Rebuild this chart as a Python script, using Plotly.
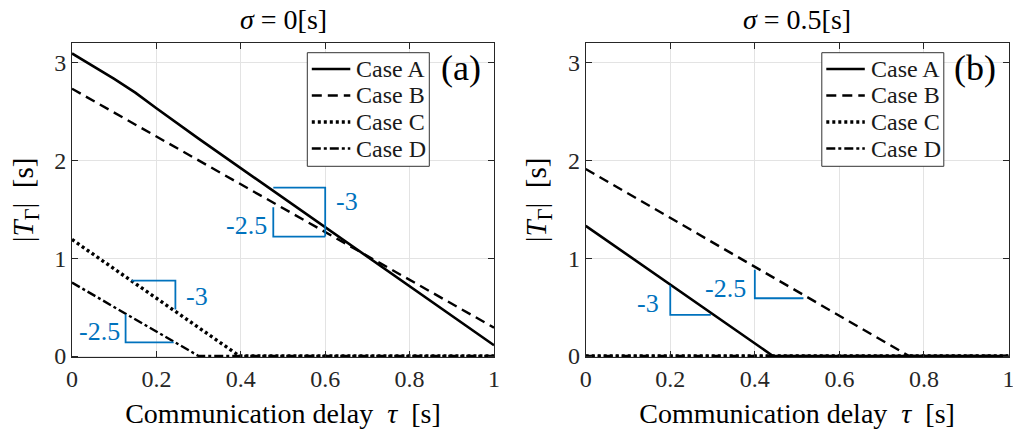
import plotly.graph_objects as go
from plotly.subplots import make_subplots

# ---- sigma = 0 [s] ----
tau_a_A = [0.0, 0.1, 0.15, 0.2, 0.3, 1.0]
T_a_A = [3.09, 2.83, 2.69, 2.53, 2.22, 0.11]
tau_a_B = [0.0, 1.0]
T_a_B = [2.73, 0.29]
tau_a_C = [0.0, 0.397, 1.0]
T_a_C = [1.19, 0.0, 0.0]
tau_a_D = [0.0, 0.3, 1.0]
T_a_D = [0.75, 0.0, 0.0]

# ---- sigma = 0.5 [s] ----
tau_b_A = [0.0, 0.443, 1.0]
T_b_A = [1.33, 0.0, 0.0]
tau_b_B = [0.0, 0.765, 1.0]
T_b_B = [1.91, 0.0, 0.0]
tau_b_C = [0.0, 1.0]
T_b_C = [0.0, 0.0]
tau_b_D = [0.0, 1.0]
T_b_D = [0.0, 0.0]

case_names = ["Case A", "Case B", "Case C", "Case D"]

# slope guide triangles: (panel, x list, y list)
slope_tris = [
    (1, [0.477, 0.6, 0.6], [1.72, 1.72, 1.22]),
    (1, [0.477, 0.477, 0.6], [1.52, 1.22, 1.22]),
    (1, [0.141, 0.245, 0.245], [0.77, 0.77, 0.476]),
    (1, [0.127, 0.127, 0.241], [0.425, 0.14, 0.14]),
    (2, [0.2, 0.2, 0.296], [0.72, 0.42, 0.42]),
    (2, [0.4, 0.4, 0.515], [0.88, 0.59, 0.59]),
]
# slope labels: (panel, text, x, y, xanchor)
slope_labels = [
    (1, "-3", 0.62, 1.575, "left"),
    (1, "-2.5", 0.467, 1.33, "right"),
    (1, "-3", 0.265, 0.605, "left"),
    (1, "-2.5", 0.118, 0.25, "right"),
    (2, "-3", 0.178, 0.54, "right"),
    (2, "-2.5", 0.383, 0.69, "right"),
]

x_ticks = [0, 0.2, 0.4, 0.6, 0.8, 1]
x_ticktext = ["0", "0.2", "0.4", "0.6", "0.8", "1"]
y_ticks = [0, 1, 2, 3]
panel_titles = ["<i>σ</i> = 0[s]", "<i>σ</i> = 0.5[s]"]
panel_tags = ["(a)", "(b)"]

SERIF = "Liberation Serif"
BLUE = "#0072BD"
AXC = "#262626"
W, H = 1013, 438
styles = [
    dict(dash="solid", width=2.6),
    dict(dash="10px,6px", width=2.4),
    dict(dash="3px,3px", width=3.4),
    dict(dash="9px,3px,3px,3px", width=2.4),
]

fig = make_subplots(rows=1, cols=2, horizontal_spacing=0.09)

panels = [
    [(tau_a_A, T_a_A), (tau_a_B, T_a_B), (tau_a_C, T_a_C), (tau_a_D, T_a_D)],
    [(tau_b_A, T_b_A), (tau_b_B, T_b_B), (tau_b_C, T_b_C), (tau_b_D, T_b_D)],
]

for p, series in enumerate(panels, start=1):
    for k, (xs, ys) in enumerate(series):
        fig.add_trace(
            go.Scatter(x=xs, y=ys, mode="lines", name=case_names[k],
                       line=dict(color="black", **styles[k]),
                       showlegend=False),
            row=1, col=p,
        )

for p, xs, ys in slope_tris:
    fig.add_trace(
        go.Scatter(x=xs, y=ys, mode="lines", showlegend=False,
                   line=dict(color=BLUE, width=1.8)),
        row=1, col=p,
    )

for p, txt, x, y, xa in slope_labels:
    xref = "x" if p == 1 else "x2"
    yref = "y" if p == 1 else "y2"
    fig.add_annotation(x=x, y=y, xref=xref, yref=yref, text=txt,
                       showarrow=False, xanchor=xa, yanchor="middle",
                       font=dict(family=SERIF, size=26, color=BLUE))

# plot areas in pixels (left, right) and vertical extent
px_dom = [(72, 494), (585.7, 1008.5)]
y_bottom_px, y_top_px = 357.2, 42.7
y_range = [-0.012, 3.2]

axis_common = dict(
    showline=True, linecolor=AXC, linewidth=1, mirror="allticks",
    ticks="inside", ticklen=6, tickcolor=AXC,
    showgrid=True, gridcolor="#e3e3e3", gridwidth=1,
    zeroline=False, automargin=False, ticklabeloverflow="allow",
    tickfont=dict(family=SERIF, size=24, color=AXC),
)

for i, (l, r) in enumerate(px_dom, start=1):
    xa = "xaxis" if i == 1 else "xaxis2"
    ya = "yaxis" if i == 1 else "yaxis2"
    fig.update_layout(**{
        xa: dict(axis_common, domain=[l / W, r / W], range=[0, 1],
                 tickvals=x_ticks, ticktext=x_ticktext,
                 title=dict(text="Communication delay  <i>τ</i>  [s]",
                            font=dict(family=SERIF, size=28, color="black"),
                            standoff=12)),
        ya: dict(axis_common, domain=[1 - y_bottom_px / H, 1 - y_top_px / H],
                 range=y_range, tickvals=y_ticks,
                 title=dict(text="|<i>T</i><sub>Γ</sub>|  [s]",
                            font=dict(family=SERIF, size=29, color="black"),
                            standoff=12)),
    })

for i, (l, r) in enumerate(px_dom):
    fig.add_annotation(x=(l + r) / 2 / W, y=1 - 19 / H, xref="paper",
                       yref="paper", text=panel_titles[i], showarrow=False,
                       xanchor="center", yanchor="middle",
                       font=dict(family=SERIF, size=28, color="black"))
    fig.add_annotation(x=(r - 11) / W, y=1 - 68 / H, xref="paper",
                       yref="paper", text=panel_tags[i], showarrow=False,
                       xanchor="right", yanchor="middle",
                       font=dict(family=SERIF, size=36, color="black"))

    # legend box with line samples, anchored to the plot's right edge
    bx1 = r - 64.7
    bx0 = bx1 - 122
    by0, by1 = 52.7, 166.3
    fig.add_shape(type="rect", xref="paper", yref="paper",
                  x0=bx0 / W, x1=bx1 / W, y0=1 - by1 / H, y1=1 - by0 / H,
                  line=dict(color="#333333", width=1), fillcolor="white",
                  layer="above")
    for k, name in enumerate(case_names):
        ry = 69 + 26.5 * k
        fig.add_shape(type="line", xref="paper", yref="paper",
                      x0=(bx0 + 4.5) / W, x1=(bx0 + 43) / W,
                      y0=1 - ry / H, y1=1 - ry / H,
                      line=dict(color="black", **styles[k]), layer="above")
        fig.add_annotation(x=(bx0 + 47) / W, y=1 - ry / H, xref="paper",
                           yref="paper", text=name, showarrow=False,
                           xanchor="left", yanchor="middle",
                           font=dict(family=SERIF, size=24, color="#1a1a1a"))

fig.update_layout(
    font=dict(family=SERIF),
    showlegend=False,
    width=W, height=H,
    margin=dict(l=0, r=0, t=0, b=0),
    paper_bgcolor="white", plot_bgcolor="white",
)

fig.write_html("out.html")
